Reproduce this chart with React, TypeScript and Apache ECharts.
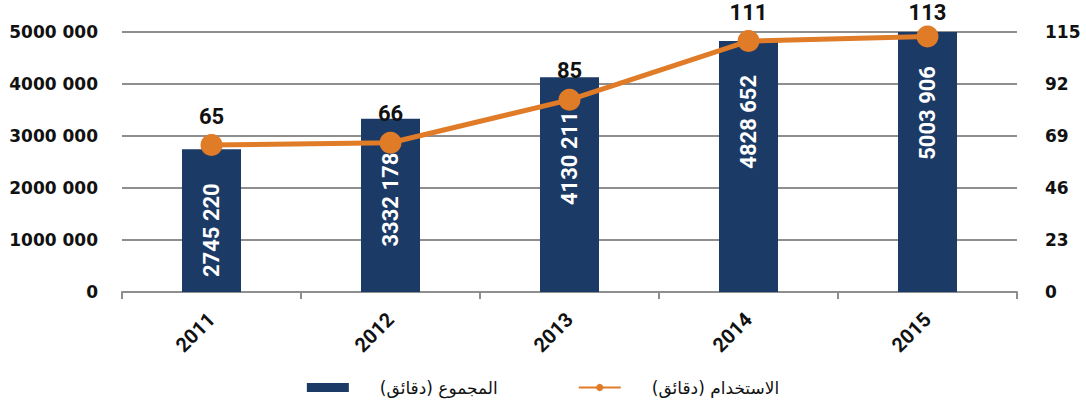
import React, { useEffect, useRef } from "react";
import * as echarts from "echarts";

const years = ["2011", "2012", "2013", "2014", "2015"];
const totalMinutes = [2745220, 3332178, 4130211, 4828652, 5003906];
const usageMinutes = [65, 66, 85, 111, 113];
const totalName = "المجموع (دقائق)";
const usageName = "الاستخدام (دقائق)";

const BAR = "#1C3A66";
const LINE = "#E07B28";
const GRID = "#8E8E8E";

function fmtSpace(v: number): string {
  if (v < 1000) return String(v);
  const hi = Math.floor(v / 1000);
  const lo = String(v % 1000).padStart(3, "0");
  return hi + " " + lo;
}

export default function App() {
  const ref = useRef<HTMLDivElement>(null);
  useEffect(() => {
    if (!ref.current) return;
    const chart = echarts.init(ref.current, null, { renderer: "svg" });
    chart.setOption({
      animation: false,
      backgroundColor: "#ffffff",
      grid: { left: 122, right: 69, top: 32, bottom: 117 },
      legend: {
        left: "center",
        top: 374,
        itemGap: 80,
        itemWidth: 42,
        itemHeight: 9,
        textStyle: {
          fontFamily: "DejaVu Sans, sans-serif",
          fontSize: 17,
          color: "#111",
          padding: [0, 0, 0, 26],
        },
        data: [
          { name: totalName, icon: "rect" },
          { name: usageName },
        ],
      },
      xAxis: {
        type: "category",
        data: years,
        boundaryGap: true,
        axisLine: { show: true, lineStyle: { color: GRID, width: 2 } },
        axisTick: { show: true, alignWithLabel: false, length: 7, lineStyle: { color: GRID, width: 2 } },
        axisLabel: {
          rotate: 45,
          margin: 24,
          fontFamily: "Roboto, sans-serif",
          fontWeight: "bold",
          fontSize: 20,
          color: "#111",
        },
      },
      yAxis: [
        {
          type: "value",
          min: 0,
          max: 5000000,
          interval: 1000000,
          axisLine: { show: false },
          axisTick: { show: false },
          splitLine: { show: true, lineStyle: { color: GRID, width: 2 } },
          axisLabel: {
            margin: 24,
            formatter: (v: number) => fmtSpace(v),
            fontFamily: "DejaVu Sans, sans-serif",
            fontWeight: "bold",
            fontSize: 17,
            color: "#111",
          },
        },
        {
          type: "value",
          min: 0,
          max: 115,
          interval: 23,
          axisLine: { show: false },
          axisTick: { show: false },
          splitLine: { show: false },
          axisLabel: {
            margin: 28,
            fontFamily: "DejaVu Sans, sans-serif",
            fontWeight: "bold",
            fontSize: 17,
            color: "#111",
          },
        },
      ],
      series: [
        {
          name: totalName,
          type: "bar",
          yAxisIndex: 0,
          data: totalMinutes,
          barWidth: 59,
          itemStyle: { color: BAR },
          label: {
            show: true,
            position: "insideTop",
            rotate: 90,
            align: "right",
            verticalAlign: "middle",
            distance: 34,
            formatter: (p: any) => fmtSpace(p.value),
            fontFamily: "Roboto, sans-serif",
            fontWeight: "bold",
            fontSize: 22,
            color: "#ffffff",
          },
        },
        {
          name: usageName,
          type: "line",
          yAxisIndex: 1,
          data: usageMinutes,
          symbol: "circle",
          symbolSize: 22,
          lineStyle: { color: LINE, width: 5 },
          itemStyle: { color: LINE },
          label: {
            show: true,
            position: "top",
            distance: 7,
            fontFamily: "Roboto, sans-serif",
            fontWeight: "bold",
            fontSize: 22,
            color: "#111",
          },
          labelLayout: (p: any) => {
            const r = p.labelRect;
            if (r && r.y < 1) {
              return { y: 1 + r.height / 2, verticalAlign: "middle", align: "center" };
            }
            return {};
          },
        },
      ],
    });
    return () => chart.dispose();
  }, []);
  return <div ref={ref} style={{ width: 1086, height: 409, position: "absolute", left: 0, top: 0 }} />;
}
